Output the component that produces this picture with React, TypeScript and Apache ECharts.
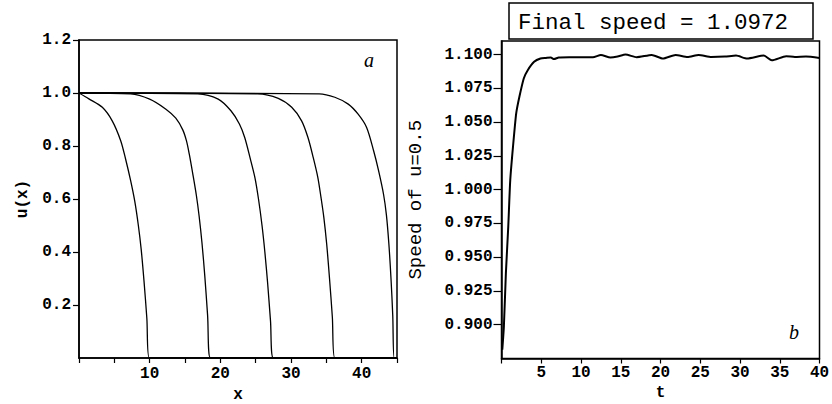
import React, { useEffect, useRef } from "react";
import * as echarts from "echarts";

// Panel a: front profiles u(x) at successive times
const front1X = [0, 1.4, 3.3, 4.7, 5.9, 6.6, 7.3, 7.9, 8.4, 8.8, 9.2, 9.6, 9.95, 45];
const front1U = [1.0, 0.978, 0.946, 0.895, 0.82, 0.75, 0.67, 0.59, 0.5, 0.41, 0.29, 0.15, 0, 0];
const front2X = [0, 7.3, 10.0, 12.3, 13.7, 14.7, 15.2, 15.6, 16.1, 16.6, 17.0, 17.4, 17.8, 18.2, 18.6, 45];
const front2U = [1.0, 0.997, 0.977, 0.939, 0.905, 0.86, 0.82, 0.77, 0.695, 0.615, 0.535, 0.435, 0.31, 0.16, 0, 0];
const front3X = [0, 16.8, 19.7, 21.5, 22.7, 23.45, 24.2, 24.9, 25.4, 25.9, 26.3, 26.7, 27.1, 27.5, 45];
const front3U = [1.0, 0.997, 0.977, 0.933, 0.883, 0.832, 0.756, 0.68, 0.6, 0.5, 0.4, 0.28, 0.14, 0, 0];
const front4X = [0, 25.3, 28.2, 30.1, 31.5, 32.4, 33.15, 33.8, 34.25, 34.65, 35.05, 35.45, 35.85, 36.2, 45];
const front4U = [1.0, 0.997, 0.98, 0.946, 0.895, 0.832, 0.756, 0.681, 0.605, 0.53, 0.43, 0.3, 0.155, 0, 0];
const front5X = [0, 34.0, 36.2, 38.1, 39.5, 40.7, 41.7, 42.4, 43.1, 43.5, 43.85, 44.15, 44.4, 44.6, 45];
const front5U = [1.0, 0.997, 0.984, 0.958, 0.92, 0.87, 0.781, 0.706, 0.617, 0.54, 0.43, 0.3, 0.16, 0, 0];

// Panel b: speed of the u=0.5 level
const speedT = [0.1, 0.3, 0.55, 0.85, 1.1, 1.45, 1.85, 2.25, 2.8, 3.3, 4.1, 4.9, 5.6, 6.2, 6.6, 7.2, 8.5, 10, 11.5, 12.5, 13.7, 14.6, 15.6, 17.0, 18.9, 20.3, 21.9, 23.4, 24.8, 26.4, 28.1, 29.5, 30.9, 33.0, 34.0, 35.8, 36.9, 38.3, 40];
const speedV = [0.8815, 0.8987, 0.938, 0.9726, 1.007, 1.032, 1.0564, 1.0687, 1.0823, 1.0884, 1.0946, 1.0971, 1.0975, 1.0978, 1.0966, 1.0978, 1.098, 1.098, 1.0979, 1.0997, 1.0978, 1.0985, 1.1, 1.098, 1.0997, 1.097, 1.0997, 1.0982, 1.0997, 1.0982, 1.0985, 1.0992, 1.097, 1.0992, 1.0957, 1.0987, 1.0982, 1.0985, 1.0975];

// Axis ticks and labels
const leftXTickMarks = [0, 5, 10, 15, 20, 25, 30, 35, 40, 45];
const leftXLabels = [10, 20, 30, 40];
const leftYLabels = [0.2, 0.4, 0.6, 0.8, 1.0, 1.2];
const rightXTickMarks = [0, 5, 10, 15, 20, 25, 30, 35, 40];
const rightXLabels = [5, 10, 15, 20, 25, 30, 35, 40];
const rightYLabels = [0.9, 0.925, 0.95, 0.975, 1.0, 1.025, 1.05, 1.075, 1.1];

const titleText = "Final speed = 1.0972";

const MONO = '"Liberation Mono", "DejaVu Sans Mono", monospace';

function zip(xs: number[], ys: number[]) {
  return xs.map((x, i) => [x, ys[i]]);
}

export default function App() {
  const ref = useRef<HTMLDivElement>(null);
  useEffect(() => {
    if (!ref.current) return;
    const chart = echarts.init(ref.current, undefined, { renderer: "svg" });
    const labelStyle = {
      fontFamily: MONO,
      fontSize: 16,
      fontWeight: "bold" as const,
      color: "#000",
    };
    const axisLine = { show: true, lineStyle: { color: "#000", width: 1.5 } };
    const fronts = [
      zip(front1X, front1U),
      zip(front2X, front2U),
      zip(front3X, front3U),
      zip(front4X, front4U),
      zip(front5X, front5U),
    ];
    chart.setOption({
      animation: false,
      backgroundColor: "#fff",
      title: {
        text: titleText,
        left: 509,
        top: 3,
        borderColor: "#000",
        borderWidth: 1.5,
        padding: [8, 25, 5, 9],
        textStyle: { fontFamily: MONO, fontSize: 22.5, fontWeight: "normal", color: "#000" },
      },
      grid: [
        { left: 79, top: 40, width: 318, height: 318, show: true, borderColor: "#000", borderWidth: 1.5, backgroundColor: "transparent", outerBoundsMode: "none", containLabel: false },
        { left: 501.5, top: 41, width: 318, height: 317.5, show: true, borderColor: "#000", borderWidth: 1.5, backgroundColor: "transparent", outerBoundsMode: "none", containLabel: false },
      ],
      xAxis: [
        {
          type: "value", gridIndex: 0, min: 0, max: 45, interval: 5,
          name: "x", nameLocation: "middle", nameGap: 28,
          nameTextStyle: { ...labelStyle, fontSize: 16 },
          axisLine, splitLine: { show: false },
          axisTick: { show: true, length: 5, customValues: leftXTickMarks, lineStyle: { color: "#000", width: 1.2 } },
          axisLabel: { ...labelStyle, margin: 8, customValues: leftXLabels, formatter: (v: number) => String(v) },
        },
        {
          type: "value", gridIndex: 1, min: 0, max: 40, interval: 5,
          name: "t", nameLocation: "middle", nameGap: 26,
          nameTextStyle: { ...labelStyle, fontSize: 16 },
          axisLine, splitLine: { show: false },
          axisTick: { show: true, length: 5, customValues: rightXTickMarks, lineStyle: { color: "#000", width: 1.2 } },
          axisLabel: { ...labelStyle, margin: 6, customValues: rightXLabels, formatter: (v: number) => String(v) },
        },
      ],
      yAxis: [
        {
          type: "value", gridIndex: 0, min: 0, max: 1.2, interval: 0.2,
          name: "u(x)", nameLocation: "middle", nameGap: 48,
          nameTextStyle: { ...labelStyle, fontSize: 16 },
          axisLine, splitLine: { show: false },
          axisTick: { show: true, length: 6, customValues: leftYLabels, lineStyle: { color: "#000", width: 1.2 } },
          axisLabel: { ...labelStyle, margin: 8, customValues: leftYLabels, formatter: (v: number) => v.toFixed(1) },
        },
        {
          type: "value", gridIndex: 1, min: 0.875, max: 1.11, interval: 0.025,
          name: "Speed of u=0.5", nameLocation: "middle", nameGap: 76,
          nameTextStyle: { ...labelStyle, fontSize: 19, fontWeight: "normal" },
          axisLine, splitLine: { show: false },
          axisTick: { show: true, length: 8, customValues: rightYLabels, lineStyle: { color: "#000", width: 1.2 } },
          axisLabel: { ...labelStyle, margin: 9, customValues: rightYLabels, formatter: (v: number) => v.toFixed(3) },
        },
      ],
      graphic: [
        { type: "text", left: 364, top: 50, style: { text: "a", font: 'italic 20px "Liberation Serif", serif', fill: "#000" } },
        { type: "text", left: 789, top: 322, style: { text: "b", font: 'italic 20px "Liberation Serif", serif', fill: "#000" } },
      ],
      series: [
        ...fronts.map((d) => ({
          type: "line", xAxisIndex: 0, yAxisIndex: 0, data: d, showSymbol: false, symbol: "none",
          smooth: 0.3, clip: true, lineStyle: { color: "#000", width: 1.3 },
        })),
        {
          type: "line", xAxisIndex: 1, yAxisIndex: 1, data: zip(speedT, speedV), showSymbol: false, symbol: "none",
          smooth: 0.2, lineStyle: { color: "#000", width: 2 },
        },
      ],
    });
    return () => chart.dispose();
  }, []);
  return <div ref={ref} style={{ position: "fixed", left: 0, top: 0, width: 832, height: 404 }} />;
}
